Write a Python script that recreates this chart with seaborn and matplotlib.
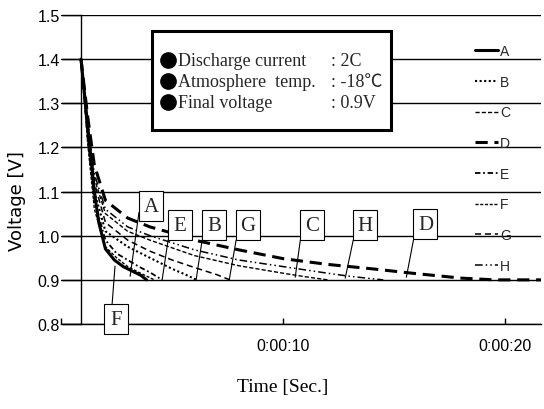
import matplotlib
matplotlib.use("Agg")
import matplotlib.pyplot as plt
import seaborn as sns
import pandas as pd
from matplotlib.patches import Rectangle

# ---------------- data ----------------
series_names = ["A", "B", "C", "D", "E", "F", "G", "H"]

time_A = [0.9, 1.1, 1.3, 1.5, 1.7, 2.0, 2.4, 2.8, 3.2, 3.6, 3.85]
volt_A = [1.40, 1.30, 1.20, 1.10, 1.03, 0.97, 0.945, 0.93, 0.92, 0.91, 0.90]

time_B = [0.9, 1.2, 1.5, 2.0, 3.0, 4.0, 5.0, 5.6, 6.1]
volt_B = [1.40, 1.23, 1.10, 1.01, 0.975, 0.95, 0.925, 0.912, 0.90]

time_C = [0.9, 1.2, 1.5, 2.0, 3.0, 4.0, 6.0, 8.0, 10.0, 11.0, 12.0]
volt_C = [1.40, 1.25, 1.13, 1.05, 1.01, 0.99, 0.955, 0.932, 0.915, 0.907, 0.90]

time_D = [0.9, 1.2, 1.5, 2.0, 3.0, 4.0, 5.0, 6.0, 8.0, 10.0, 12.0, 14.0, 16.0, 18.0, 19.5, 21.6]
volt_D = [1.40, 1.27, 1.16, 1.08, 1.04, 1.02, 1.006, 0.99, 0.968, 0.948, 0.935, 0.925, 0.914, 0.904, 0.90, 0.90]

time_E = [0.9, 1.2, 1.5, 2.0, 2.5, 3.0, 3.5, 4.0, 4.55]
volt_E = [1.40, 1.22, 1.08, 0.99, 0.96, 0.945, 0.93, 0.917, 0.90]

time_F = [0.9, 1.2, 1.5, 2.0, 2.5, 3.0, 3.5, 4.2]
volt_F = [1.40, 1.21, 1.06, 0.975, 0.95, 0.93, 0.917, 0.90]

time_G = [0.9, 1.2, 1.5, 2.0, 3.0, 4.0, 5.0, 6.0, 7.0, 7.6]
volt_G = [1.40, 1.24, 1.12, 1.03, 0.99, 0.965, 0.945, 0.928, 0.912, 0.90]

time_H = [0.9, 1.2, 1.5, 2.0, 3.0, 4.0, 6.0, 8.0, 10.0, 12.0, 13.0, 14.5]
volt_H = [1.40, 1.26, 1.14, 1.06, 1.02, 1.0, 0.968, 0.945, 0.93, 0.915, 0.908, 0.90]

series_time = [time_A, time_B, time_C, time_D, time_E, time_F, time_G, time_H]
series_volt = [volt_A, volt_B, volt_C, volt_D, volt_E, volt_F, volt_G, volt_H]

y_ticks = [0.8, 0.9, 1.0, 1.1, 1.2, 1.3, 1.4, 1.5]
x_ticks = [0, 10, 20]
x_tick_labels = ["", "0:00:10", "0:00:20"]

info_labels = ["Discharge current", "Atmosphere  temp.", "Final voltage"]
info_values = ["2C", "-18\u2103", "0.9V"]

# ---------------- styles / layout ----------------
line_styles = {
    "A": dict(lw=2.2, ls="-"),
    "B": dict(lw=1.5, ls=(0, (1, 1.2))),
    "C": dict(lw=1.0, ls=(0, (3, 1.5))),
    "D": dict(lw=2.2, ls=(0, (4, 2.2))),
    "E": dict(lw=1.3, ls=(0, (3, 1.5, 1, 1.5))),
    "F": dict(lw=1.0, ls=(0, (2.2, 1.2))),
    "G": dict(lw=1.1, ls=(0, (4, 2.5))),
    "H": dict(lw=1.1, ls=(0, (5, 2, 1, 2, 1, 2))),
}

# annotation boxes: label -> (box center, pointer start, pointer tip) in data coords
annot = {
    "A": ((4.05, 1.067), (3.51, 1.053), (3.11, 0.908)),
    "E": ((5.36, 1.024), (4.82, 0.990), (4.55, 0.900)),
    "B": ((6.89, 1.024), (6.35, 0.990), (6.08, 0.900)),
    "G": ((8.42, 1.024), (7.88, 0.990), (7.57, 0.900)),
    "C": ((11.31, 1.024), (10.77, 0.990), (10.54, 0.906)),
    "H": ((13.69, 1.024), (13.15, 0.990), (12.79, 0.904)),
    "D": ((16.40, 1.026), (15.86, 0.990), (15.54, 0.906)),
    "F": ((2.48, 0.811), (2.30, 0.845), (2.43, 0.931)),
}
box_w, box_h = 1.08, 0.068

rows = []
for name, ts, vs in zip(series_names, series_time, series_volt):
    for t, v in zip(ts, vs):
        rows.append((name, t, v))
df = pd.DataFrame(rows, columns=["series", "time", "voltage"])

sns.set_theme(style="white")
plt.rcParams["font.family"] = ["Liberation Sans", "DejaVu Sans"]

fig = plt.figure(figsize=(5.44, 4.10), dpi=100)
ax = fig.add_axes([61 / 544, 1 - 325 / 410, 480 / 544, 309 / 410])

for name in series_names:
    sub = df[df["series"] == name]
    st = line_styles[name]
    sns.lineplot(data=sub, x="time", y="voltage", ax=ax, color="black",
                 linewidth=st["lw"], linestyle=st["ls"], label=name,
                 estimator=None, sort=False, zorder=3)

ax.set_xlim(0, 21.6)
ax.set_ylim(0.8, 1.5)
ax.set_yticks(y_ticks)
ax.set_yticklabels([f"{v:.1f}" for v in y_ticks])
ax.set_xticks(x_ticks)
ax.set_xticklabels(x_tick_labels)

for s in ["top", "right"]:
    ax.spines[s].set_visible(False)
ax.spines["left"].set_position(("data", 0.9))
ax.spines["left"].set_color("black")
ax.spines["bottom"].set_color("black")
ax.spines["left"].set_linewidth(1.0)
ax.spines["bottom"].set_linewidth(1.0)

ax.tick_params(axis="y", direction="out", length=13.7, width=1, pad=1.5,
               colors="black", labelsize=11.5, left=True)
ax.tick_params(axis="x", direction="in", length=4, width=1, pad=10,
               colors="black", labelsize=11.5, bottom=True)

ax.yaxis.grid(True, color="black", linewidth=1.0)
ax.xaxis.grid(False)
ax.set_axisbelow(True)

ax.set_ylabel("Voltage [V]", family=["DejaVu Sans"], fontsize=13, color="black")
ax.yaxis.set_label_coords(-0.073, 0.40)
ax.set_xlabel("Time [Sec.]", family=["Liberation Serif"], fontsize=14, color="black")
ax.xaxis.set_label_coords(0.4625, -0.175)

# legend
handles, labels = ax.get_legend_handles_labels()
ax.legend(handles, labels, loc="upper left", bbox_to_anchor=(0.862, 0.906),
          frameon=False, fontsize=10, handlelength=1.65, handletextpad=0.15,
          labelspacing=1.2, borderpad=0, borderaxespad=0)

# info box
ax.add_patch(Rectangle((0.19, 0.628), 0.4975, 0.32, transform=ax.transAxes,
                       facecolor="white", edgecolor="black", linewidth=2.2,
                       zorder=6))
row_y = [0.854, 0.786, 0.718]
for y, lab, val in zip(row_y, info_labels, info_values):
    ax.plot([0.222], [y], marker="o", markersize=11, color="black",
            transform=ax.transAxes, clip_on=False, zorder=7, linestyle="none")
    ax.text(0.244, y, lab, transform=ax.transAxes, fontsize=13,
            family=["Liberation Serif"], va="center", ha="left", zorder=7)
    ax.text(0.562, y, ": " + val, transform=ax.transAxes, fontsize=13,
            family=["Liberation Serif", "Noto Sans CJK JP"], va="center",
            ha="left", zorder=7)

# annotation boxes
for name in series_names:
    (cx, cy), (sx, sy), (ex, ey) = annot[name]
    ax.plot([sx, ex], [sy, ey], color="black", lw=0.8, zorder=4)
    ax.add_patch(Rectangle((cx - box_w / 2, cy - box_h / 2), box_w, box_h,
                           facecolor="white", edgecolor="black", lw=0.8,
                           zorder=5, clip_on=False))
    ax.text(cx, cy, name, fontsize=15, family=["Liberation Serif"],
            ha="center", va="center", zorder=6, clip_on=False)

fig.savefig("out.png", dpi=100)
